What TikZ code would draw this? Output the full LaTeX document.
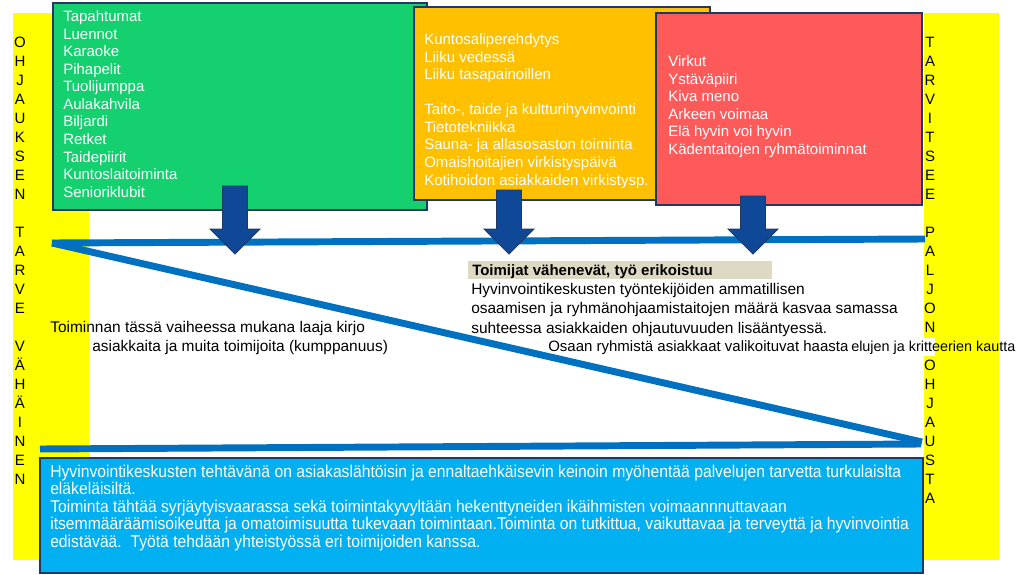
\documentclass[tikz,border=0pt]{standalone}
\usepackage{fontspec}
\setmainfont{Liberation Sans}
\newfontfamily\narrowfont{Liberation Sans}[FakeStretch=0.92]
\definecolor{ylw}{RGB}{255,255,0}
\definecolor{grn}{RGB}{20,208,110}
\definecolor{org}{RGB}{255,192,0}
\definecolor{rd}{RGB}{255,90,90}
\definecolor{lblue}{RGB}{0,176,240}
\definecolor{navy}{RGB}{31,56,100}
\definecolor{lineblue}{RGB}{0,112,192}
\definecolor{arrowblue}{RGB}{14,72,150}
\definecolor{beige}{RGB}{221,217,195}
\tikzset{
  boxst/.style={draw=navy, line width=1.9pt},
  bluebar/.style={draw=lineblue, line width=5.2pt},
  arrowst/.style={fill=arrowblue, draw=navy, line width=0.6pt},
  txt/.style={anchor=base west, inner sep=0pt, font=\fontsize{11.25}{13}\selectfont},
  mtxt/.style={anchor=base west, inner sep=0pt, font=\fontsize{11.6}{13}\selectfont},
  letter/.style={anchor=base, inner sep=0pt, font=\fontsize{11.25}{13}\selectfont},
  btxt/.style={anchor=base west, inner sep=0pt, text=white, font=\narrowfont\fontsize{12.8}{13}\selectfont}
}
\newcommand\downarr[2]{\filldraw[arrowst] ({#1-12.5},#2) -- ({#1+12.5},#2) -- ({#1+12.5},229) -- ({#1+25},229) -- (#1,254) -- ({#1-25},229) -- ({#1-12.5},229) -- cycle;}
\begin{document}
\begin{tikzpicture}[x=0.75pt,y=-0.75pt]
\useasboundingbox (0,0) rectangle (1023,574);
% yellow strips
\fill[ylw] (13,13) rectangle (89,560);
\fill[ylw] (924,13) rectangle (999,560);
% blue bars
\coordinate (s) at (52,243);
\coordinate (te) at (925,239);
\coordinate (de) at (922,442);
\coordinate (bs) at (40,449);
\coordinate (be) at (921,444);
\draw[bluebar] (s) -- (te);
\draw[bluebar] (s) -- (de);
\draw[bluebar] (bs) -- (be);
% boxes
\draw[boxst, fill=grn] (53,3) rectangle (427,210);
\draw[boxst, fill=org] (414,7) rectangle (710,200);
\draw[boxst, fill=rd] (656,13) rectangle (922,205);
% arrows
\downarr{235}{186}
\downarr{509}{190}
\downarr{753}{196}
% bottom box
\draw[boxst, fill=lblue] (40,458) rectangle (923,573);
% green texts
\foreach \t [count=\i from 0] in {Tapahtumat,Luennot,Karaoke,Pihapelit,Tuolijumppa,Aulakahvila,Biljardi,Retket,Taidepiirit,Kuntoslaitoiminta,Senioriklubit}
  \node[txt, text=white] (g\i) at (63,{22+17.5*\i}) {\t};
% orange texts
\foreach \t [count=\i from 0] in {Kuntosaliperehdytys,Liiku vedessä,Liiku tasapainoillen}
  \node[txt, text=white] (o\i) at (424,{45+17.5*\i}) {\t};
\foreach \t [count=\i from 0] in {{Taito-, taide ja kultturihyvinvointi},Tietotekniikka,Sauna- ja allasosaston toiminta,Omaishoitajien virkistyspäivä,Kotihoidon asiakkaiden virkistysp.}
  \node[txt, text=white] (p\i) at (424,{115+17.5*\i}) {\t};
% red texts
\foreach \t [count=\i from 0] in {Virkut,Ystäväpiiri,Kiva meno,Arkeen voimaa,Elä hyvin voi hyvin,Kädentaitojen ryhmätoiminnat}
  \node[txt, text=white] (r\i) at (668,{67+17.5*\i}) {\t};
% left letters
\foreach \t [count=\i from 0] in {O,H,J,A,U,K,S,E,N}
  \node[letter] (la\i) at (20,{47.4+19*\i}) {\t};
\foreach \t [count=\i from 0] in {T,A,R,V,E}
  \node[letter] (lb\i) at (20,{47.4+19*(\i+10)}) {\t};
\foreach \t [count=\i from 0] in {V,Ä,H,Ä,I,N,E,N}
  \node[letter] (lc\i) at (20,{47.4+19*(\i+16)}) {\t};
% right letters
\foreach \t [count=\i from 0] in {T,A,R,V,I,T,S,E,E}
  \node[letter] (ra\i) at (930,{47.4+19*\i}) {\t};
\foreach \t [count=\i from 0] in {P,A,L,J,O,N}
  \node[letter] (rb\i) at (930,{47.4+19*(\i+10)}) {\t};
\foreach \t [count=\i from 0] in {O,H,J,A,U,S,T,A}
  \node[letter] (rc\i) at (930,{47.4+19*(\i+17)}) {\t};
% middle texts
\node[mtxt] (m1) at (50,332) {Toiminnan tässä vaiheessa mukana laaja kirjo};
\node[mtxt] (m2) at (92,351) {asiakkaita ja muita toimijoita (kumppanuus)};
\fill[beige] (468,261) rectangle (772,279);
\node[mtxt, font=\bfseries\fontsize{11.25}{13}\selectfont] (h0) at (472,275) {Toimijat vähenevät, työ erikoistuu};
\node[mtxt] (h1) at (471,294) {Hyvinvointikeskusten työntekijöiden ammatillisen};
\node[mtxt] (h2) at (471,313.5) {osaamisen ja ryhmänohjaamistaitojen määrä kasvaa samassa};
\node[mtxt] (h3) at (471,333) {suhteessa asiakkaiden ohjautuvuuden lisääntyessä.};
\node[txt] (q1) at (548,351) {Osaan ryhmistä asiakkaat valikoituvat haasta};
\fill[white] (848,338) rectangle (935,356);
\node[txt, font=\fontsize{10.8}{13}\selectfont] (q2) at (851,351) {elujen ja kritteerien kautta};
% bottom texts
\node[btxt] (b1) at (50,477) {Hyvinvointikeskusten tehtävänä on asiakaslähtöisin ja ennaltaehkäisevin keinoin myöhentää palvelujen tarvetta turkulaislta};
\node[btxt] (b2) at (50,494.5) {eläkeläisiltä.};
\node[btxt] (b3) at (50,512) {Toiminta tähtää syrjäytyisvaarassa sekä toimintakyvyltään hekenttyneiden ikäihmisten voimaannnuttavaan};
\node[btxt] (b4) at (50,529.5) {itsemmääräämisoikeutta ja omatoimisuutta tukevaan toimintaan.Toiminta on tutkittua, vaikuttavaa ja terveyttä ja hyvinvointia};
\node[btxt] (b5) at (50,547) {edistävää.\ \ Työtä tehdään yhteistyössä eri toimijoiden kanssa.};
\end{tikzpicture}
\end{document}
